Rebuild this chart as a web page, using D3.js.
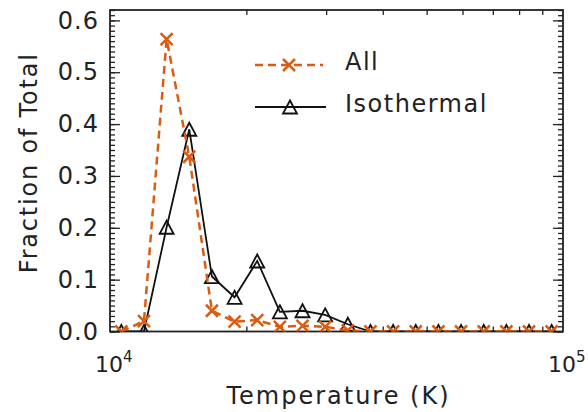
<!DOCTYPE html>
<html lang="en">
<head>
<meta charset="utf-8"/>
<script src="https://d3js.org/d3.v7.min.js"></script>
<style>
  body { margin: 0; background: #fff; }
  text { font-family: "DejaVu Sans", sans-serif; fill: #222; }
</style>
</head>
<body>
<div id="chart"></div>
<script>
// bin centres, log10(T / K)
var logTemps = [4.025, 4.075, 4.125, 4.175, 4.225, 4.275, 4.325, 4.375, 4.425, 4.475,
                4.525, 4.575, 4.625, 4.675, 4.725, 4.775, 4.825, 4.875, 4.925, 4.975];
var allFrac = [0.000, 0.020, 0.564, 0.337, 0.040, 0.019, 0.022, 0.009, 0.011, 0.009,
               0.002, 0.000, 0.000, 0.000, 0.000, 0.000, 0.000, 0.000, 0.000, 0.000];
var isoFrac = [0.000, 0.000, 0.201, 0.390, 0.106, 0.066, 0.136, 0.038, 0.040, 0.032,
               0.014, 0.000, 0.000, 0.000, 0.000, 0.000, 0.000, 0.000, 0.000, 0.000];
var yTicks = [0.0, 0.1, 0.2, 0.3, 0.4, 0.5, 0.6];
var xMinor = [2e4, 3e4, 4e4, 5e4, 6e4, 7e4, 8e4, 9e4];
var xLabels = [{v: 1e4, p: "4"}, {v: 1e5, p: "5"}];
var seriesNames = ["All", "Isothermal"];

var orange = "#da5c12";
var margin = {top: 10, right: 25, bottom: 80.5, left: 110};
var width = 588 - margin.left - margin.right;
var height = 412 - margin.top - margin.bottom;

var svg = d3.select("#chart")
    .append("svg")
        .attr("width", 588)
        .attr("height", 412)
    .append("g")
        .attr("transform", "translate(" + margin.left + "," + margin.top + ")");

var x = d3.scaleLog().domain([1e4, 1e5]).range([0, width]);
var y = d3.scaleLinear().domain([0, 0.62]).range([height, 0]);

svg.append("clipPath").attr("id", "clip")
    .append("rect").attr("width", width).attr("height", height);

// axes, ticks pointing inward
function clean(g) { g.select(".domain").remove(); g.selectAll("line").attr("stroke", "#222").attr("stroke-width", 1.3); }

svg.append("g").attr("transform", "translate(0," + height + ")")
    .call(d3.axisBottom(x).tickValues(xMinor).tickSize(-5).tickFormat(""))
    .call(clean);
svg.append("g")
    .call(d3.axisTop(x).tickValues(xMinor).tickSize(-5).tickFormat(""))
    .call(clean);

var yMinor = d3.range(0, 63).map(function (i) { return i / 100; });
svg.append("g").call(d3.axisLeft(y).tickValues(yMinor).tickSize(-5).tickFormat("")).call(clean);
svg.append("g").attr("transform", "translate(" + width + ",0)")
    .call(d3.axisRight(y).tickValues(yMinor).tickSize(-5).tickFormat("")).call(clean);
svg.append("g").attr("transform", "translate(" + width + ",0)")
    .call(d3.axisRight(y).tickValues(yTicks).tickSize(-10).tickFormat("")).call(clean);

var yAxis = svg.append("g")
    .call(d3.axisLeft(y).tickValues(yTicks).tickSize(-10).tickPadding(11).tickFormat(d3.format(".1f")))
    .call(clean);
yAxis.selectAll("text")
    .style("font-size", "24px").style("letter-spacing", "1px").style("fill", "#222");

svg.append("rect")
    .attr("width", width).attr("height", height)
    .attr("fill", "none").attr("stroke", "#222").attr("stroke-width", 1.8);

// x tick labels 10^4, 10^5
var xl = svg.selectAll(".xl").data(xLabels).enter().append("text")
    .attr("x", function (d) { return x(d.v) - 15; })
    .attr("y", height + 40)
    .style("font-size", "22px");
xl.append("tspan").text("10");
xl.append("tspan").attr("dy", -10).style("font-size", "15px").text(function (d) { return d.p; });

// titles
svg.append("text")
    .attr("x", width / 2 + 2).attr("y", height + 72)
    .attr("text-anchor", "middle")
    .style("font-size", "24px").style("letter-spacing", "2px")
    .text("Temperature (K)");
svg.append("text")
    .attr("transform", "translate(" + (-73) + "," + (height / 2 - 8) + ") rotate(-90)")
    .attr("text-anchor", "middle")
    .style("font-size", "24px").style("letter-spacing", "1.8px")
    .text("Fraction of Total");

// series
var xPath = "M-6,-6L6,6M-6,6L6,-6";
var triPath = "M0,-6.5L7,6.5L-7,6.5Z";
var plot = svg.append("g").attr("clip-path", "url(#clip)");

var line = function (vals) {
    return d3.line()
        .x(function (d, i) { return x(Math.pow(10, logTemps[i])); })
        .y(function (d) { return y(d); })(vals);
};

plot.append("path").attr("d", line(isoFrac))
    .attr("fill", "none").attr("stroke", "#111").attr("stroke-width", 1.8);
plot.selectAll(".tri").data(isoFrac).enter().append("path")
    .attr("d", triPath)
    .attr("transform", function (d, i) { return "translate(" + x(Math.pow(10, logTemps[i])) + "," + y(d) + ")"; })
    .attr("fill", "none").attr("stroke", "#111").attr("stroke-width", 1.8);

plot.append("path").attr("d", line(allFrac))
    .attr("fill", "none").attr("stroke", orange).attr("stroke-width", 2.5)
    .attr("stroke-dasharray", "8,5");
plot.selectAll(".cross").data(allFrac).enter().append("path")
    .attr("d", xPath)
    .attr("transform", function (d, i) { return "translate(" + x(Math.pow(10, logTemps[i])) + "," + y(d) + ")"; })
    .attr("fill", "none").attr("stroke", orange).attr("stroke-width", 2.5);

// legend
var leg = svg.append("g").attr("transform", "translate(145,0)");
leg.append("line").attr("x1", 0).attr("x2", 68).attr("y1", 55).attr("y2", 55)
    .attr("stroke", orange).attr("stroke-width", 2.5).attr("stroke-dasharray", "8,5");
leg.append("path").attr("d", xPath).attr("transform", "translate(34,55)")
    .attr("fill", "none").attr("stroke", orange).attr("stroke-width", 2.5);
leg.append("line").attr("x1", 0).attr("x2", 71).attr("y1", 97).attr("y2", 97)
    .attr("stroke", "#111").attr("stroke-width", 1.8);
leg.append("path").attr("d", triPath).attr("transform", "translate(35,97)")
    .attr("fill", "none").attr("stroke", "#111").attr("stroke-width", 1.8);
leg.selectAll(".lt").data(seriesNames).enter().append("text")
    .attr("x", 90).attr("y", function (d, i) { return 52 + 42 * i; })
    .attr("dy", "0.35em")
    .style("font-size", "24px").style("letter-spacing", "1.5px")
    .text(function (d) { return d; });
</script>
</body>
</html>
